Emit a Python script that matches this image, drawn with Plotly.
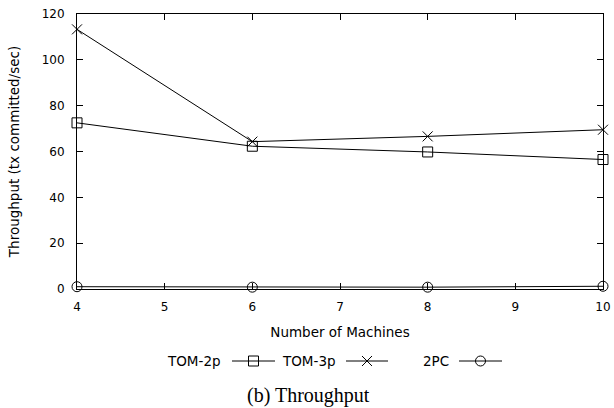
import plotly.graph_objects as go

machines = [4, 6, 8, 10]
tom2p = [72.5, 62.3, 59.8, 56.5]
tom3p = [113.3, 64.3, 66.6, 69.5]
twopc = [1.0, 0.8, 0.8, 1.2]
series_names = ["TOM-2p", "TOM-3p", "2PC"]
x_ticks = [4, 5, 6, 7, 8, 9, 10]
y_ticks = [0, 20, 40, 60, 80, 100, 120]

# legend layout (pixel-like units on hidden legend axis)
leg_text_right = [223, 338, 451]
leg_sample_left = [232, 346, 459]
leg_sample_right = [275, 388, 502]

FONT = "DejaVu Sans"
TXT = 13.5
TICK = 12
symbols = ["square-open", "x-thin-open", "circle-open"]
data = [tom2p, tom3p, twopc]

fig = go.Figure()
for name, sym, vals in zip(series_names, symbols, data):
    fig.add_trace(go.Scatter(
        x=machines, y=vals, mode="lines+markers", name=name,
        line=dict(color="black", width=1),
        marker=dict(symbol=sym, size=10, color="black",
                    line=dict(color="black", width=1)),
        cliponaxis=False, showlegend=False,
    ))

# manual gnuplot-style legend: text then sample
for i, (name, sym) in enumerate(zip(series_names, symbols)):
    l, r = leg_sample_left[i], leg_sample_right[i]
    fig.add_trace(go.Scatter(
        x=[l, r], y=[0.5, 0.5], mode="lines", xaxis="x2", yaxis="y2",
        line=dict(color="black", width=1), showlegend=False, hoverinfo="skip",
        cliponaxis=False,
    ))
    fig.add_trace(go.Scatter(
        x=[(l + r) / 2], y=[0.5], mode="markers", xaxis="x2", yaxis="y2",
        marker=dict(symbol=sym, size=10, color="black",
                    line=dict(color="black", width=1)),
        showlegend=False, hoverinfo="skip", cliponaxis=False,
    ))
    fig.add_annotation(x=leg_text_right[i], y=0.5, xref="x2", yref="y2",
                       text=name, showarrow=False, xanchor="right",
                       yanchor="middle", font=dict(family=FONT, size=TXT, color="black"))

H = 408
T = 14
B = 0
plot_h = H - T - B
y_bottom_px = 289
y0 = (H - y_bottom_px) / plot_h

axis_common = dict(showgrid=False, zeroline=False, showline=True, linecolor="black",
                   linewidth=1, mirror="ticks", ticks="inside", ticklen=6,
                   tickcolor="black", tickwidth=1, automargin=False,
                   tickfont=dict(family=FONT, size=TICK, color="black"))

fig.update_layout(
    template="none",
    width=614, height=408,
    margin=dict(l=77, r=11, t=T, b=B, autoexpand=False),
    paper_bgcolor="white", plot_bgcolor="white",
    xaxis=dict(range=[4, 10], tickvals=x_ticks, domain=[0, 1], ticklabelstandoff=7,
               title=dict(text="Number of Machines", standoff=14,
                          font=dict(family=FONT, size=TXT, color="black")),
               **axis_common),
    yaxis=dict(range=[0, 120], tickvals=y_ticks, domain=[y0, 1], ticklabelstandoff=9,
               title=dict(text="Throughput (tx committed/sec)", standoff=18,
                          font=dict(family=FONT, size=TXT, color="black")),
               **axis_common),
    xaxis2=dict(range=[77, 603], domain=[0, 1], anchor="y2", visible=False,
                automargin=False),
    yaxis2=dict(range=[0, 1], domain=[(H - 371) / plot_h, (H - 351) / plot_h],
                anchor="x2", visible=False, automargin=False),
    showlegend=False,
)

fig.add_annotation(x=308, y=(H - 395) / plot_h, xref="x2", yref="paper",
                   text="(b) Throughput", showarrow=False, xanchor="center",
                   yanchor="middle",
                   font=dict(family="Liberation Serif", size=20, color="black"))

fig.write_html("out.html", config={"displayModeBar": False},
               post_script="document.body.style.margin='0';document.body.style.overflow='hidden';")
